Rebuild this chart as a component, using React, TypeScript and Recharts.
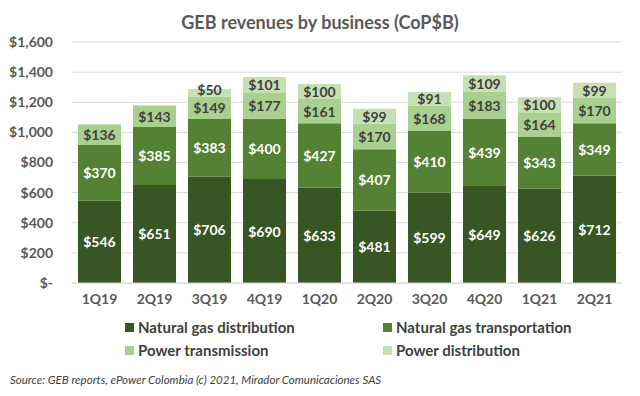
import { Bar, BarChart, CartesianGrid, LabelList, XAxis, YAxis } from 'recharts';

const quarters = ['1Q19', '2Q19', '3Q19', '4Q19', '1Q20', '2Q20', '3Q20', '4Q20', '1Q21', '2Q21'];
const gasDistribution = [546, 651, 706, 690, 633, 481, 599, 649, 626, 712];
const gasTransportation = [370, 385, 383, 400, 427, 407, 410, 439, 343, 349];
const powerTransmission = [136, 143, 149, 177, 161, 170, 168, 183, 164, 170];
const powerDistribution = [null, null, 50, 101, 100, 99, 91, 109, 100, 99];
const yTicks = [0, 200, 400, 600, 800, 1000, 1200, 1400, 1600];

const series = [
  { key: 'gasDist', name: 'Natural gas distribution', color: '#375623', label: '#ffffff' },
  { key: 'gasTrans', name: 'Natural gas transportation', color: '#548235', label: '#ffffff' },
  { key: 'powerTrans', name: 'Power transmission', color: '#a9d08e', label: '#404040' },
  { key: 'powerDist', name: 'Power distribution', color: '#c6e0b4', label: '#404040' },
];

const data = quarters.map((q, i) => ({
  q,
  gasDist: gasDistribution[i],
  gasTrans: gasTransportation[i],
  powerTrans: powerTransmission[i],
  powerDist: powerDistribution[i],
}));

const font = 'Lato, "Open Sans", sans-serif';

const money = (v: number) => (v === 0 ? '$-' : '$' + v.toLocaleString('en-US'));

// value label centred in the segment, nudged up a little when the segment is too thin
const segLabel = (color: string) => (props: any) => {
  const { x, y, width, height, value } = props;
  if (value == null) return null;
  const shift = Math.abs(height) < 12 ? -3 : 0;
  return (
    <text
      x={x + width / 2}
      y={y + height / 2 + shift}
      textAnchor="middle"
      dominantBaseline="central"
      fill={color}
      style={{ fontSize: 14, fontWeight: 700, fontFamily: font }}
    >
      {'$' + value}
    </text>
  );
};

export default function App() {
  return (
    <div style={{ position: 'absolute', left: 0, top: 0, width: 640, height: 396, background: '#fff', fontFamily: font }}>
      <div style={{ position: 'absolute', top: 11, left: 0, width: 640, textAlign: 'center', fontSize: 18, fontWeight: 700, color: '#595959', whiteSpace: 'nowrap' }}>
        GEB revenues by business (CoP$B)
      </div>
      <BarChart
        width={640}
        height={396}
        data={data}
        margin={{ top: 42, right: 18, bottom: 83, left: 0 }}
        barCategoryGap={6}
      >
        <CartesianGrid vertical={false} stroke="#d9d9d9" />
        <XAxis
          dataKey="q"
          height={30}
          tickLine={false}
          tickSize={0}
          tickMargin={11}
          axisLine={{ stroke: '#d9d9d9' }}
          tick={{ fill: '#595959', fontSize: 14, fontWeight: 700, fontFamily: font }}
        />
        <YAxis
          width={72}
          domain={[0, 1600]}
          ticks={yTicks}
          tickFormatter={money}
          axisLine={false}
          tickLine={false}
          tickSize={0}
          tickMargin={19}
          tick={{ fill: '#595959', fontSize: 14, fontWeight: 700, fontFamily: font }}
        />
        {series.map((s) => (
          <Bar key={s.key} dataKey={s.key} name={s.name} stackId="a" fill={s.color} isAnimationActive={false}>
            <LabelList dataKey={s.key} content={segLabel(s.label)} />
          </Bar>
        ))}
      </BarChart>
      <div style={{ position: 'absolute', top: 316, left: 125, width: 520, display: 'flex', flexWrap: 'wrap', rowGap: 1 }}>
        {series.map((s) => (
          <div key={s.key} style={{ width: 258, display: 'flex', alignItems: 'center', fontSize: 15, fontWeight: 700, color: '#404040', height: 22 }}>
            <span style={{ display: 'inline-block', width: 9, height: 9, background: s.color, marginRight: 4 }} />
            {s.name}
          </div>
        ))}
      </div>
      <div style={{ position: 'absolute', top: 373, left: 10, fontSize: 11.5, fontStyle: 'italic', color: '#404040', whiteSpace: 'nowrap' }}>
        Source: GEB reports, ePower Colombia (c) 2021, Mirador Comunicaciones SAS
      </div>
    </div>
  );
}
